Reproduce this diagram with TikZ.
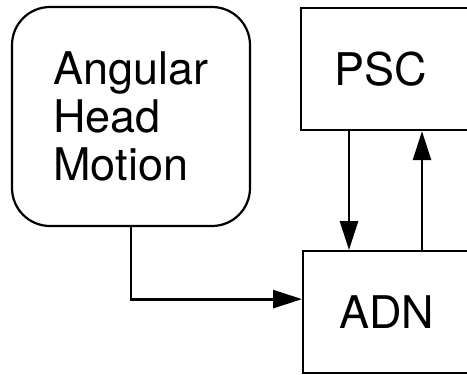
\documentclass[tikz,border=0pt]{standalone}
\usepackage{fontspec}
\setmainfont{TeX Gyre Heros}
\usetikzlibrary{arrows.meta}

\begin{document}
\begin{tikzpicture}[x=1pt, y=-1pt,
        block/.style={draw, line width=2.2pt, font=\fontsize{45}{48}\selectfont, align=left},
        arr/.style={line width=2.8pt, -{Triangle[length=29pt, width=18pt]}}]
                \useasboundingbox (0,0) rectangle (467,375);
                \clip (0,0) rectangle (467,375);
                \node[block, rounded corners=38pt, minimum width=238pt, minimum height=219pt] (motion) at (131,116.5) {Angular\\Head\\Motion};
                \node[block, anchor=north west, minimum height=122pt, text width=150pt, inner xsep=33pt] (psc) at (300,7) {PSC};
                \node[block, anchor=north west, minimum height=122pt, text width=150pt, inner xsep=36pt] (adn) at (302,250) {ADN};
                \draw[arr] ([xshift=49pt]psc.south west) -- ([xshift=47pt]adn.north west);
                \draw[arr] ([xshift=120pt]adn.north west) -- ([xshift=122pt]psc.south west);
                \draw[arr] (motion.south) |- ([yshift=13pt]adn.west);
            \end{tikzpicture}
\end{document}
